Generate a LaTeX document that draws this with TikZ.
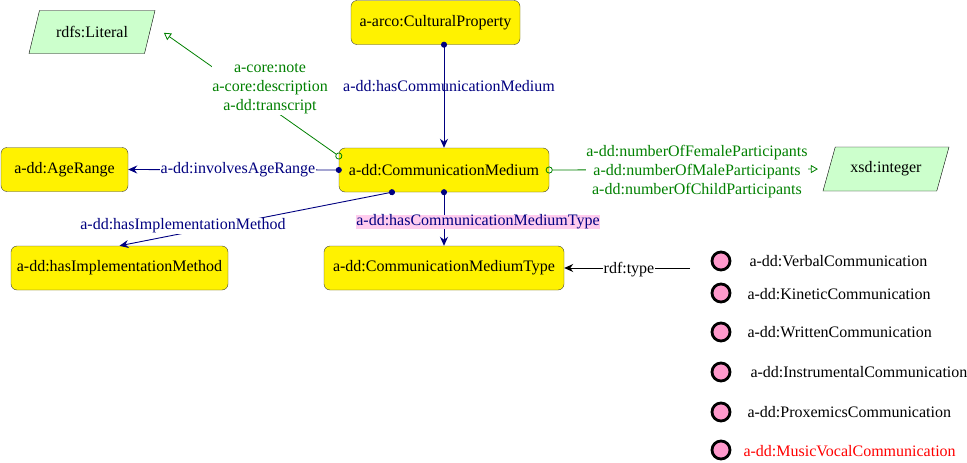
\documentclass[tikz,border=0pt]{standalone}
\usepackage{fontspec}
\setmainfont{Liberation Serif}
\usetikzlibrary{arrows.meta,shapes.geometric}
\definecolor{navy}{RGB}{0,0,128}
\definecolor{owlgreen}{RGB}{0,128,0}
\definecolor{litfill}{RGB}{204,255,204}
\definecolor{indfill}{RGB}{255,153,204}
\definecolor{typehl}{RGB}{255,204,238}

\begin{document}
\begin{tikzpicture}[%
      x=1pt, y=-1pt,
      font=\fontsize{16}{19}\selectfont,
      cls/.style={draw=black!75, fill=yellow, rounded corners=6pt, minimum height=44pt, inner sep=2pt},
      lit/.style={draw=black, fill=litfill, trapezium, trapezium left angle=60, trapezium right angle=120, trapezium stretches body=true, minimum width=126pt, minimum height=43pt},
      ind/.style={circle, draw=black, line width=2.8pt, fill=indfill, minimum size=18pt, inner sep=0pt},
      objprop/.style={color=navy, line width=0.9pt, {Circle[length=6pt]}-{Stealth[length=9pt,width=8pt]}, shorten <=-3pt},
      dataprop/.style={color=owlgreen, line width=0.8pt, {Circle[open,length=7pt]}-{Triangle[open,length=7pt,width=8pt]}, shorten <=-3.5pt},
      plbl/.style={color=navy, fill=white, inner sep=1pt},
      dlbl/.style={color=owlgreen, fill=white, inner sep=0.5pt, align=center},
      ]
      \useasboundingbox (0,0) rectangle (967,463);

      \node [cls, minimum width=169pt] (prop) at (435.5,22.5) {a-arco:CulturalProperty};
      \node [cls, minimum width=210pt] (medium) at (444,170) {a-dd:CommunicationMedium};
      \node [cls, minimum width=127pt] (age) at (64.5,169.5) {a-dd:AgeRange};
      \node [cls, minimum width=217pt] (method) at (119.5,268) {a-dd:hasImplementationMethod};
      \node [cls, minimum width=240pt] (mtype) at (444,268) {a-dd:CommunicationMediumType};
      \node [lit] (literal) at (92,32) {rdfs:Literal};
      \node [lit, minimum height=44pt] (integer) at (886,169) {xsd:integer};
      \coordinate (typeend) at (690,268);

      \draw [objprop] (prop.south -| medium.north) -- (medium.north);
      \draw [objprop] (medium.south) -- (mtype.north);
      \draw [objprop] (medium.west) -- (age.east);
      \draw [objprop] ([xshift=-52pt]medium.south) -- (method.north);
      \draw [dataprop, shorten >=17pt] ([yshift=14pt]medium.west) -- ([yshift=9pt]literal.east);
      \draw [dataprop, shorten >=11pt] (medium.east) -- (integer.west);
      \draw [color=black, line width=0.9pt, -{Stealth[length=9pt,width=8pt]}] (typeend) -- (mtype.east);

      \node [plbl, fill=none] (lblmedium) at (449,86) {a-dd:hasCommunicationMedium};
      \node [plbl] (lblage) at (238,170) {a-dd:involvesAgeRange};
      \node [plbl] (lblmethod) at (183,226) {a-dd:hasImplementationMethod};
      \node [plbl, fill=typehl, inner sep=0pt] (lbltype) at (478,222) {a-dd:hasCommunicationMediumType};
      \node [dlbl] (lblliteral) at (270,89) {a-core:note\\a-core:description\\a-dd:transcript};
      \node [dlbl] (lblinteger) at (697,172) {a-dd:numberOfFemaleParticipants\\a-dd:numberOfMaleParticipants\\a-dd:numberOfChildParticipants};
      \node [fill=white, inner sep=1pt] (lblrdftype) at (629,270) {rdf:type};

      \node [ind] (verbal) at (721,261) {};
      \node [ind] (kinetic) at (721,293) {};
      \node [ind] (written) at (721,332) {};
      \node [ind] (instrumental) at (721,372) {};
      \node [ind] (proxemics) at (721,412) {};
      \node [ind] (musicvocal) at (721,450) {};

      \node [anchor=west] (lblverbal) at (746,261) {a-dd:VerbalCommunication};
      \node [anchor=west] (lblkinetic) at (744,294) {a-dd:KineticCommunication};
      \node [anchor=west] (lblwritten) at (744,332) {a-dd:WrittenCommunication};
      \node [anchor=west] (lblinstrumental) at (747,372) {a-dd:InstrumentalCommunication};
      \node [anchor=west] (lblproxemics) at (744,412) {a-dd:ProxemicsCommunication};
      \node [anchor=west, color=red] (lblmusicvocal) at (740,451) {a-dd:MusicVocalCommunication};
      \end{tikzpicture}
\end{document}
